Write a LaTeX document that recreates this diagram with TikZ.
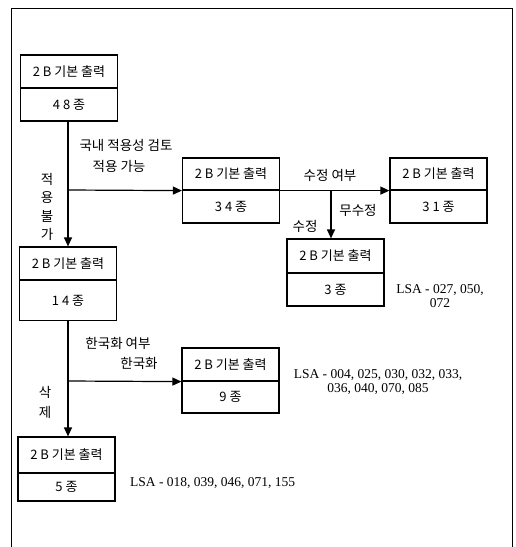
\documentclass[tikz,border=0pt]{standalone}
\usepackage{fontspec}
\setmainfont{Liberation Serif}
\newfontfamily\kr{Noto Sans CJK KR}
\usetikzlibrary{arrows.meta}
\tikzset{
  cell/.style={draw, line width=1.2pt, minimum width=97pt, inner sep=0pt, font=\kr\fontsize{13}{15}\selectfont},
  lbl/.style={inner sep=0pt, font=\kr\fontsize{13.5}{18.5}\selectfont, align=center},
  lsa/.style={inner sep=0pt, font=\fontsize{13.5}{14}\selectfont, align=center},
  conn/.style={line width=1.2pt},
  arr/.style={line width=1.2pt, -{Triangle[length=9pt,width=8pt]}},
  frame/.style={line width=1pt}
}
\begin{document}
\begin{tikzpicture}[x=1pt,y=-1pt]
\useasboundingbox (0,0) rectangle (515,547);
\fill[white] (0,0) rectangle (515,547);
\draw[frame] (11,547) -- (11,8) -- (512,8) -- (512,547);

% box 48
\node[cell, minimum height=33pt] (b1t) at (69,71.5) {2 B 기본 출력};
\node[cell, minimum height=33pt] (b1b) at (69,104.5) {4 8 종};
% box 34
\node[cell, minimum height=32pt] (b34t) at (231,174) {2 B 기본 출력};
\node[cell, minimum height=33pt] (b34b) at (231,206.5) {3 4 종};
% box 31
\node[cell, minimum height=32pt] (b31t) at (438.5,174) {2 B 기본 출력};
\node[cell, minimum height=33pt] (b31b) at (438.5,206.5) {3 1 종};
% box 3
\node[cell, minimum height=34pt] (b3t) at (335.5,256) {2 B 기본 출력};
\node[cell, minimum height=33pt] (b3b) at (335.5,289.5) {3 종};
% box 14
\node[cell, minimum height=33pt] (b14t) at (68,263.5) {2 B 기본 출력};
\node[cell, minimum height=40pt] (b14b) at (68,300.5) {1 4 종};
% box 9
\node[cell, minimum height=33pt] (b9t) at (230.5,364.5) {2 B 기본 출력};
\node[cell, minimum height=32pt] (b9b) at (230.5,397) {9 종};
% box 5
\node[cell, minimum height=36pt] (b5t) at (66.5,455) {2 B 기본 출력};
\node[cell, minimum height=28pt] (b5b) at (66.5,487) {5 종};

% junctions
\coordinate (j1) at (68,190);
\coordinate (j2) at (331,190);
\coordinate (j3) at (68,381);

% connectors
\draw[arr] (b1b.south -| j1) -- (b14t.north -| j1);
\draw[arr] (j1) -- (b34t.south west);
\draw[arr] (b34t.south east) -- (b31t.south west);
\draw[arr] (j2) -- (b3t.north -| j2);
\draw[arr] (b14b.south -| j3) -- (b5t.north -| j3);
\draw[arr] (j3) -- (b9t.south west);

% labels
\node[lbl] (l1) at (126,145) {국내 적용성 검토};
\node[lbl] (l2) at (119,166) {적용 가능};
\node[lbl] (l3) at (47,207) {적\\용\\불\\가};
\node[lbl] (l4) at (330,175) {수정 여부};
\node[lbl] (l5) at (358,210) {무수정};
\node[lbl] (l6) at (305,226) {수정};
\node[lbl] (l7) at (118,343) {한국화 여부};
\node[lbl] (l8) at (139,363) {한국화};
\node[lbl, font=\kr\fontsize{13.5}{20}\selectfont] (l9) at (45,402) {삭\\제};

\node[lsa] (s1) at (440,296) {LSA - 027, 050,\\072};
\node[lsa] (s2) at (378,382) {LSA - 004, 025, 030, 032, 033,\\036, 040, 070, 085};
\node[lsa, anchor=west] (s3) at (130,483) {LSA - 018, 039, 046, 071, 155};
\end{tikzpicture}
\end{document}
